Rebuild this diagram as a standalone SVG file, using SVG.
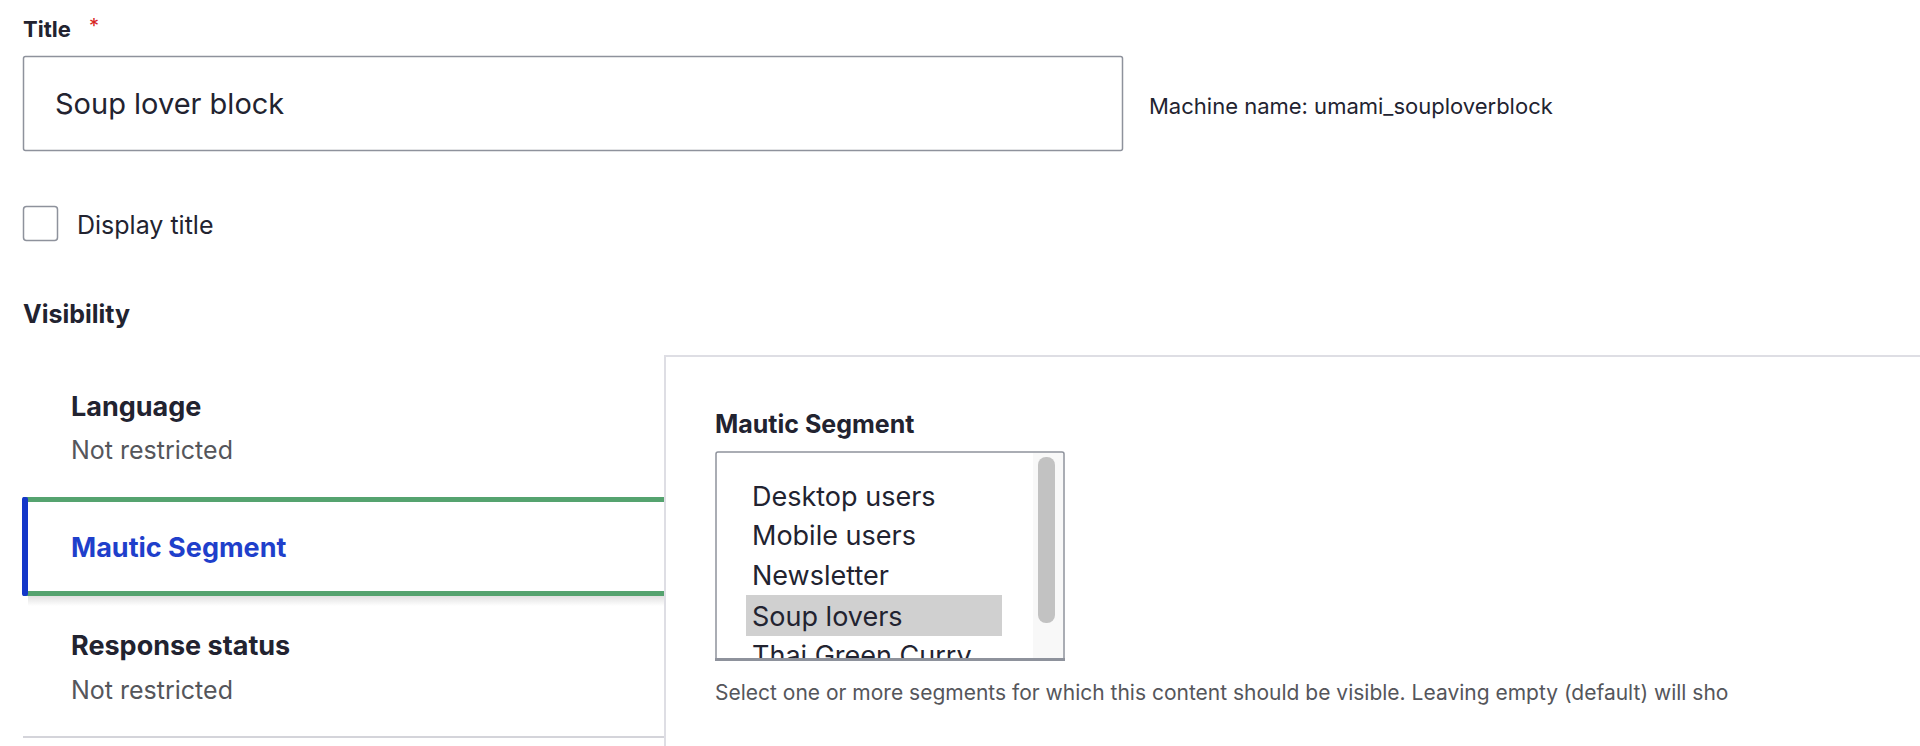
<svg xmlns="http://www.w3.org/2000/svg" width="1920" height="746" viewBox="0 0 1920 746">
<style>
text{font-family:Inter,"Liberation Sans",sans-serif;fill:#222330}
.b{font-weight:700}
.g{fill:#55565b}
.opt{font-size:27px;fill:#222330}
</style>
<defs>
<linearGradient id="sh" x1="0" y1="0" x2="0" y2="1"><stop offset="0" stop-color="#000" stop-opacity="0.12"/><stop offset="1" stop-color="#000" stop-opacity="0"/></linearGradient>
</defs>
<rect width="1920" height="746" fill="#fff"/>
<g id="title-field">
<text x="23" y="37" class="b" font-size="22">Title</text>
<text x="89" y="33" font-size="20" style="fill:#d72222">*</text>
<rect x="23.5" y="56.5" width="1099" height="94" rx="2" fill="#fff" stroke="#8e929c" stroke-width="1.5"/>
<text x="55" y="114" font-size="29">Soup lover block</text>
<text x="1149" y="114" font-size="22">Machine name: umami_souploverblock</text>
</g>
<g id="display-title">
<rect x="23.5" y="206.5" width="34" height="34" rx="3" fill="#fff" stroke="#8e929c" stroke-width="1.5"/>
<text x="77" y="234" font-size="25">Display title</text>
</g>
<g id="visibility">
<text x="23" y="323" class="b" font-size="25">Visibility</text>
</g>
<g id="tab-language">
<text x="71" y="416" class="b" font-size="27">Language</text>
<text x="71" y="459" class="g" font-size="25">Not restricted</text>
</g>
<g id="tab-mautic">
<rect x="28" y="596" width="637" height="10" fill="url(#sh)"/>
<rect x="23" y="497" width="642" height="99" fill="#fff"/>
<rect x="23" y="497" width="642" height="5" fill="#55a36f"/>
<rect x="23" y="591" width="642" height="5" fill="#55a36f"/>
<rect x="22" y="497" width="6" height="99" rx="2" fill="#1437c9"/>
<text x="71" y="557" class="b" font-size="27" style="fill:#1f3fcb">Mautic Segment</text>
</g>
<g id="tab-response">
<text x="71" y="655" class="b" font-size="27">Response status</text>
<text x="71" y="699" class="g" font-size="25">Not restricted</text>
<rect x="23" y="736" width="642" height="2" fill="#d4d4da"/>
</g>
<g id="panel">
<rect x="665" y="356" width="1260" height="400" fill="#fff" stroke="#dedee4" stroke-width="2"/>
<text x="715" y="433" class="b" font-size="25">Mautic Segment</text>
<svg x="715" y="451" width="350" height="210" viewBox="0 0 350 210">
<rect x="1" y="1" width="348" height="208" rx="2" fill="#fff" stroke="#8e929c" stroke-width="1.5"/>
<rect x="318" y="2" width="30" height="206" fill="#f8f8f8"/>
<rect x="323" y="6" width="17" height="166" rx="8" fill="#c2c2c2"/>
<rect x="31" y="144" width="256" height="41" fill="#d0d0d0"/>
<text x="37" y="55" class="opt">Desktop users</text>
<text x="37" y="94" class="opt">Mobile users</text>
<text x="37" y="134" class="opt">Newsletter</text>
<text x="37" y="175" class="opt">Soup lovers</text>
<text x="37" y="214" class="opt">Thai Green Curry</text>
<rect x="0" y="207" width="350" height="3" fill="#8e929c"/>
</svg>
<text x="715" y="700" class="g" font-size="21">Select one or more segments for which this content should be visible. Leaving empty (default) will sho</text>
</g>
</svg>
